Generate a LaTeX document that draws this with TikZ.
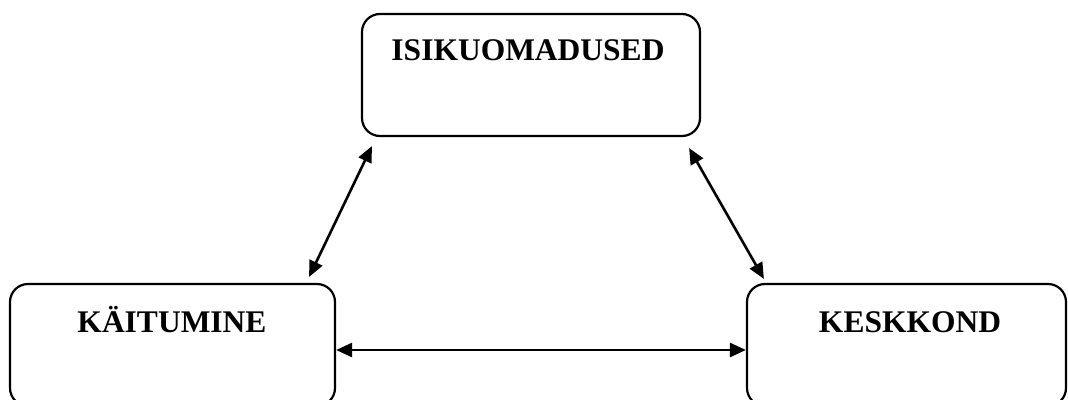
\documentclass[tikz,border=0pt]{standalone}
\usepackage{fontspec}
\setmainfont{Liberation Serif}
\usetikzlibrary{arrows.meta}
\tikzset{
  box/.style={draw=black, line width=2.2pt, rounded corners=18pt, inner sep=0pt},
  lbl/.style={anchor=base, font=\fontsize{31.5}{36}\selectfont\bfseries, inner sep=0pt},
  link/.style={line width=2.6pt, {Triangle[length=16pt,width=14pt]}-{Triangle[length=16pt,width=14pt]}}
}
\begin{document}
\begin{tikzpicture}[x=1pt,y=-1pt]
\clip (0,0) rectangle (1068,399);
\useasboundingbox (0,0) rectangle (1068,399);
\node[box, minimum width=338pt, minimum height=122pt] (top) at (531,75) {};
\node[box, minimum width=325pt, minimum height=122pt] (left) at (172.5,345) {};
\node[box, minimum width=319pt, minimum height=122pt] (right) at (906.5,345) {};
\node[lbl] (ttop) at (528,60) {ISIKUOMADUSED};
\node[lbl] (tleft) at (172,332) {KÄITUMINE};
\node[lbl] (tright) at (910,332) {KESKKOND};
\draw[link] ([xshift=11pt,yshift=-9pt]top.south west) -- ([xshift=-27pt,yshift=6pt]left.north east);
\draw[link] ([xshift=-12pt,yshift=-11pt]top.south east) -- ([xshift=18pt,yshift=4pt]right.north west);
\draw[link] ([yshift=-5pt]left.east) -- ([yshift=-5pt]right.west);
\end{tikzpicture}
\end{document}
